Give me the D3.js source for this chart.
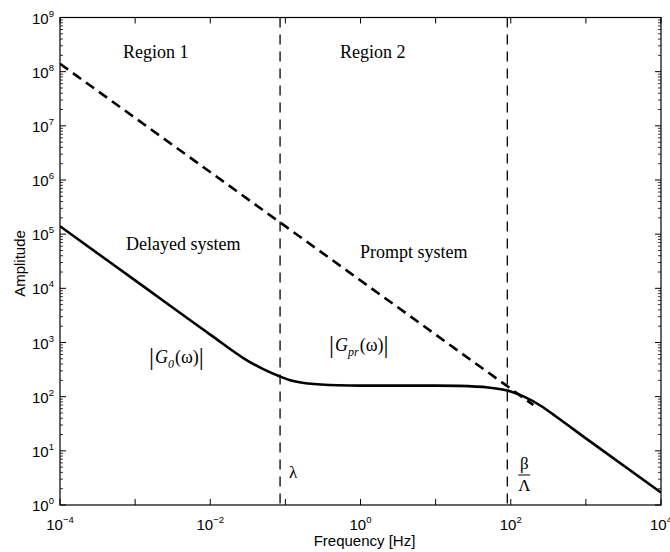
<!DOCTYPE html>
<html>
<head>
<meta charset="utf-8">
<script src="https://cdn.jsdelivr.net/npm/d3@7"></script>
<style>
  body { margin: 0; background: #fff; }
  svg { display: block; }
</style>
</head>
<body>
<div id="chart"></div>
<script>
// values
const delayedFreq = [1e-4, 1e-3, 1e-2, 3e-2, 0.05, 0.085, 0.12, 0.2, 0.5, 1, 10, 20, 50, 90, 150, 250, 400, 1e3, 1e4];
const delayedAmp = [1.4e5, 1.4e4, 1.4e3, 4.8e2, 3.25e2, 2.35e2, 1.98e2, 1.75e2, 1.62e2, 1.6e2, 1.6e2, 1.58e2, 1.48e2, 1.3e2, 100, 68, 43, 17, 1.7];
const promptFreq = [1e-4, 200];
const promptAmp = [1.4e8, 70];
const markerFreq = [0.085, 90];
const xTickValues = [1e-4, 1e-3, 1e-2, 1e-1, 1e0, 1e1, 1e2, 1e3, 1e4];
const xTickLabels = [[1e-4, "-4"], [1e-2, "-2"], [1e0, "0"], [1e2, "2"], [1e4, "4"]];
const yTickExp = [0, 1, 2, 3, 4, 5, 6, 7, 8, 9];

const width = 670;
const height = 552;
const margin = { top: 17.5, right: 9, bottom: 47, left: 60 };
const plotW = width - margin.left - margin.right;
const plotH = height - margin.top - margin.bottom;

const svg = d3.select("#chart")
    .append("svg")
    .attr("width", width)
    .attr("height", height);

const x = d3.scaleLog().domain([1e-4, 1e4]).range([0, plotW]);
const y = d3.scaleLog().domain([1e0, 1e9]).range([plotH, 0]);

const g = svg.append("g")
    .attr("transform", "translate(" + margin.left + "," + margin.top + ")");

g.append("clipPath")
    .attr("id", "plotClip")
    .append("rect")
    .attr("width", plotW)
    .attr("height", plotH);

// frame
g.append("rect")
    .attr("width", plotW)
    .attr("height", plotH)
    .attr("fill", "none")
    .attr("stroke", "#000")
    .attr("stroke-width", 1.2);

// y ticks: major + minor on both sides, pointing inward
const yMinor = [];
yTickExp.slice(0, -1).forEach(e => {
    for (let k = 2; k <= 9; k++) yMinor.push(k * Math.pow(10, e));
});
[0, plotW].forEach(side => {
    const dir = side === 0 ? 1 : -1;
    g.append("g").selectAll("line.major")
        .data(yTickExp)
        .join("line")
        .attr("x1", side)
        .attr("x2", side + dir * 6)
        .attr("y1", d => y(Math.pow(10, d)))
        .attr("y2", d => y(Math.pow(10, d)))
        .attr("stroke", "#000")
        .attr("stroke-width", 1);
    g.append("g").selectAll("line.minor")
        .data(yMinor)
        .join("line")
        .attr("x1", side)
        .attr("x2", side + dir * 3)
        .attr("y1", d => y(d))
        .attr("y2", d => y(d))
        .attr("stroke", "#000")
        .attr("stroke-width", 0.8);
});

// x ticks on bottom and top
[0, plotH].forEach(side => {
    const dir = side === 0 ? 1 : -1;
    g.append("g").selectAll("line")
        .data(xTickValues)
        .join("line")
        .attr("x1", d => x(d))
        .attr("x2", d => x(d))
        .attr("y1", side)
        .attr("y2", side + dir * 6)
        .attr("stroke", "#000")
        .attr("stroke-width", 1);
});

// tick labels
const tickFont = "Liberation Sans, Arial, sans-serif";
const yLab = g.append("g").selectAll("text")
    .data(yTickExp)
    .join("text")
    .attr("x", -6)
    .attr("y", d => y(Math.pow(10, d)) + 6)
    .attr("text-anchor", "end")
    .attr("font-family", tickFont)
    .attr("font-size", 15);
yLab.append("tspan").text("10");
yLab.append("tspan")
    .attr("dy", -7)
    .attr("font-size", 9.5)
    .text(d => d);

const xLab = g.append("g").selectAll("text")
    .data(xTickLabels)
    .join("text")
    .attr("x", d => x(d[0]))
    .attr("y", plotH + 25)
    .attr("text-anchor", "middle")
    .attr("font-family", tickFont)
    .attr("font-size", 15);
xLab.append("tspan").text("10");
xLab.append("tspan")
    .attr("dy", -7)
    .attr("font-size", 9.5)
    .text(d => d[1].replace("-", "\u2212"));

// axis titles
svg.append("text")
    .attr("transform", "translate(25," + (margin.top + 246) + ") rotate(-90)")
    .attr("text-anchor", "middle")
    .attr("font-family", tickFont)
    .attr("font-size", 15)
    .text("Amplitude");

svg.append("text")
    .attr("x", margin.left + x(1) + 4)
    .attr("y", height - 6)
    .attr("text-anchor", "middle")
    .attr("font-family", tickFont)
    .attr("font-size", 15)
    .text("Frequency [Hz]");

// curves
const plot = g.append("g").attr("clip-path", "url(#plotClip)");

plot.append("g").selectAll("line")
    .data(markerFreq)
    .join("line")
    .attr("x1", d => x(d))
    .attr("x2", d => x(d))
    .attr("y1", 0)
    .attr("y2", plotH)
    .attr("stroke", "#000")
    .attr("stroke-width", 1.3)
    .attr("stroke-dasharray", "10,7");

const line = d3.line()
    .x(d => x(d[0]))
    .y(d => y(d[1]))
    .curve(d3.curveMonotoneX);

plot.append("path")
    .datum(d3.zip(promptFreq, promptAmp))
    .attr("d", line)
    .attr("fill", "none")
    .attr("stroke", "#000")
    .attr("stroke-width", 2.6)
    .attr("stroke-dasharray", "10,6");

plot.append("path")
    .datum(d3.zip(delayedFreq, delayedAmp))
    .attr("d", line)
    .attr("fill", "none")
    .attr("stroke", "#000")
    .attr("stroke-width", 2.6);

// annotations
const serif = "Liberation Serif, Times New Roman, serif";
const notes = [
    ["Region 1", 123, 58],
    ["Region 2", 340, 58],
    ["Delayed system", 126, 250],
    ["Prompt system", 360, 258]
];
svg.append("g").selectAll("text")
    .data(notes)
    .join("text")
    .attr("x", d => d[1])
    .attr("y", d => d[2])
    .attr("font-family", serif)
    .attr("font-size", 18)
    .text(d => d[0]);

function magnitude(xp, yp, sub) {
    const t = svg.append("text")
        .attr("x", xp)
        .attr("y", yp)
        .attr("font-family", serif)
        .attr("font-size", 18);
    t.append("tspan").attr("font-size", 25).attr("dy", 2).text("|");
    t.append("tspan").attr("font-style", "italic").attr("dx", 1).attr("dy", -2).text("G");
    t.append("tspan").attr("font-style", "italic").attr("font-size", 12).attr("dy", 5).text(sub);
    t.append("tspan").attr("dx", 1).attr("dy", -5).text("(\u03c9)");
    t.append("tspan").attr("font-size", 25).attr("dy", 2).text("|");
}
magnitude(149, 363, "0");
magnitude(329, 351, "pr");

svg.append("text")
    .attr("x", margin.left + x(markerFreq[0]) + 9)
    .attr("y", 478)
    .attr("font-family", serif)
    .attr("font-size", 17)
    .text("\u03bb");

const bx = margin.left + x(markerFreq[1]) + 17;
svg.append("text")
    .attr("x", bx)
    .attr("y", 469)
    .attr("text-anchor", "middle")
    .attr("font-family", serif)
    .attr("font-size", 17)
    .text("\u03b2");
svg.append("line")
    .attr("x1", bx - 6)
    .attr("x2", bx + 6)
    .attr("y1", 475)
    .attr("y2", 475)
    .attr("stroke", "#000")
    .attr("stroke-width", 1);
svg.append("text")
    .attr("x", bx)
    .attr("y", 491)
    .attr("text-anchor", "middle")
    .attr("font-family", serif)
    .attr("font-size", 17)
    .text("\u039b");
</script>
</body>
</html>
